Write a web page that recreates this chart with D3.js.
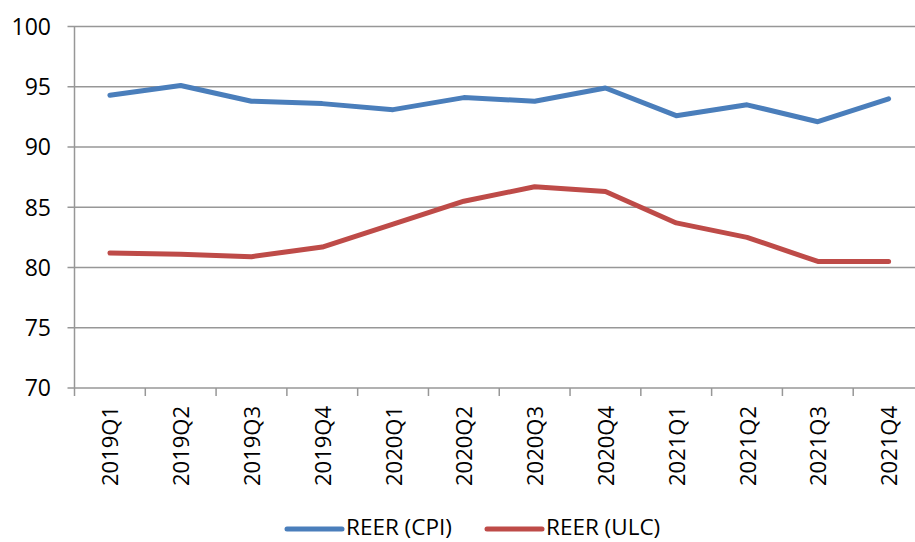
<!DOCTYPE html>
<html>
<head>
<meta charset="utf-8">
<script src="https://cdn.jsdelivr.net/npm/d3@7"></script>
<style>
body { margin: 0; background: #fff; }
svg { display: block; font-family: "Open Sans", "Liberation Sans", sans-serif; }
</style>
</head>
<body>
<div class="chart"></div>
<script>
var width = 915;
var height = 542;

var quarters = ["2019Q1", "2019Q2", "2019Q3", "2019Q4", "2020Q1", "2020Q2",
                "2020Q3", "2020Q4", "2021Q1", "2021Q2", "2021Q3", "2021Q4"];
var reer_cpi = [94.3, 95.1, 93.8, 93.6, 93.1, 94.1, 93.8, 94.9, 92.6, 93.5, 92.1, 94.0];
var reer_ulc = [81.2, 81.1, 80.9, 81.7, 83.6, 85.5, 86.7, 86.3, 83.7, 82.5, 80.5, 80.5];
var y_ticks = [70, 75, 80, 85, 90, 95, 100];
var series_names = ["REER (CPI)", "REER (ULC)"];
var series_colors = ["#4a7ebb", "#be4b48"];

var margin = { top: 26.5, left: 74.5, bottom: 154 };

var svg = d3.select(".chart").append("svg")
    .attr("width", width)
    .attr("height", height);

var x = d3.scaleBand()
    .domain(quarters)
    .range([margin.left, 924]);

var y = d3.scaleLinear()
    .domain([70, 100])
    .range([height - margin.bottom, margin.top]);

// gridlines
svg.append("g")
    .selectAll("line")
    .data(y_ticks)
    .enter()
    .append("line")
    .attr("x1", margin.left - 7)
    .attr("x2", width)
    .attr("y1", d => y(d))
    .attr("y2", d => y(d))
    .attr("stroke", "#979797")
    .attr("stroke-width", 1.5);

// y axis line + labels
svg.append("line")
    .attr("x1", margin.left).attr("x2", margin.left)
    .attr("y1", y(100)).attr("y2", y(70) + 8)
    .attr("stroke", "#979797")
    .attr("stroke-width", 1.5);

svg.append("g")
    .selectAll("text")
    .data(y_ticks)
    .enter()
    .append("text")
    .attr("x", 51)
    .attr("y", d => y(d))
    .attr("dy", "0.36em")
    .attr("text-anchor", "end")
    .attr("font-size", "23px")
    .attr("fill", "#000")
    .text(d => d);

// x ticks at category boundaries
svg.append("g")
    .selectAll("line")
    .data(quarters.slice(1))
    .enter()
    .append("line")
    .attr("x1", d => x(d)).attr("x2", d => x(d))
    .attr("y1", y(70)).attr("y2", y(70) + 8)
    .attr("stroke", "#979797")
    .attr("stroke-width", 1.5);

svg.append("g")
    .selectAll("text")
    .data(quarters)
    .enter()
    .append("text")
    .attr("transform", d => "translate(" + (x(d) + x.bandwidth() / 2 + 8.5) + "," + (y(70) + 18) + ") rotate(-90)")
    .attr("text-anchor", "end")
    .attr("font-size", "22px")
    .attr("fill", "#000")
    .text(d => d);

// lines
var line = d3.line()
    .x((d, i) => x(quarters[i]) + x.bandwidth() / 2)
    .y(d => y(d));

[reer_cpi, reer_ulc].forEach(function (s, k) {
    svg.append("path")
        .attr("d", line(s))
        .attr("fill", "none")
        .attr("stroke", series_colors[k])
        .attr("stroke-width", 5)
        .attr("stroke-linecap", "round")
        .attr("stroke-linejoin", "round");
});

// legend
var legend = svg.append("g");
var legend_x = [287, 487];
var legend_y = 527;
series_names.forEach(function (name, k) {
    legend.append("line")
        .attr("x1", legend_x[k]).attr("x2", legend_x[k] + 55)
        .attr("y1", legend_y + 2).attr("y2", legend_y + 2)
        .attr("stroke", series_colors[k])
        .attr("stroke-width", 5)
        .attr("stroke-linecap", "round");
    legend.append("text")
        .attr("x", legend_x[k] + 59)
        .attr("y", legend_y)
        .attr("dy", "0.34em")
        .attr("font-size", "22.5px")
        .attr("fill", "#000")
        .text(name);
});
</script>
</body>
</html>
